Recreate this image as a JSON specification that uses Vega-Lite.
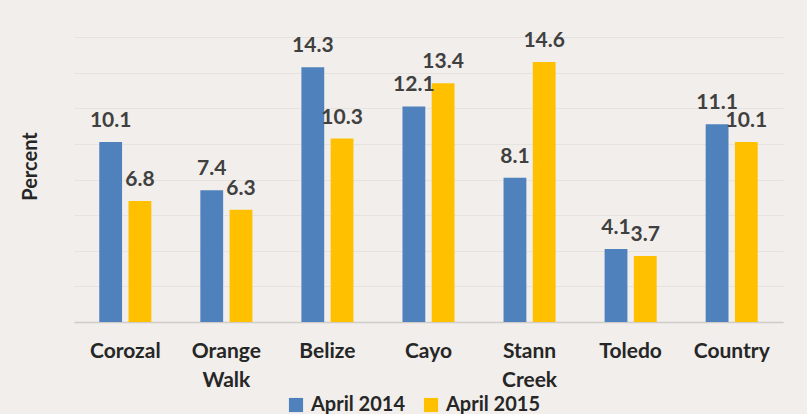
{
  "$schema": "https://vega.github.io/schema/vega-lite/v6.json",
  "width": 709,
  "height": 285,
  "autosize": {"type": "none"},
  "padding": {"left": 74, "top": 37, "right": 24, "bottom": 92},
  "background": "#F1EEEB",
  "data": {
    "values": [
      {"district": "Corozal", "period": "April 2014", "value": 10.1},
      {"district": "Corozal", "period": "April 2015", "value": 6.8},
      {"district": "Orange Walk", "period": "April 2014", "value": 7.4},
      {"district": "Orange Walk", "period": "April 2015", "value": 6.3},
      {"district": "Belize", "period": "April 2014", "value": 14.3},
      {"district": "Belize", "period": "April 2015", "value": 10.3},
      {"district": "Cayo", "period": "April 2014", "value": 12.1},
      {"district": "Cayo", "period": "April 2015", "value": 13.4},
      {"district": "Stann Creek", "period": "April 2014", "value": 8.1},
      {"district": "Stann Creek", "period": "April 2015", "value": 14.6},
      {"district": "Toledo", "period": "April 2014", "value": 4.1},
      {"district": "Toledo", "period": "April 2015", "value": 3.7},
      {"district": "Country", "period": "April 2014", "value": 11.1},
      {"district": "Country", "period": "April 2015", "value": 10.1}
    ]
  },
  "encoding": {
    "x": {
      "field": "district",
      "type": "nominal",
      "sort": null,
      "scale": {"paddingInner": 0.485, "paddingOuter": 0.25},
      "axis": {
        "title": null,
        "labelAngle": 0,
        "labelExpr": "split(datum.label, ' ')",
        "labelFont": "Lato",
        "labelFontWeight": "bold",
        "labelFontSize": 21,
        "labelColor": "#262626",
        "labelPadding": 18,
        "labelLineHeight": 29,
        "ticks": false,
        "domainColor": "#D0CCC8",
        "domainWidth": 1.5
      }
    },
    "xOffset": {"field": "period", "type": "nominal", "scale": {"paddingInner": 0.22}},
    "y": {
      "field": "value",
      "type": "quantitative",
      "scale": {"domain": [0, 16]},
      "axis": {
        "title": "Percent",
        "titleFont": "Lato",
        "titleFontWeight": "bold",
        "titleFontSize": 20,
        "titleColor": "#262626",
        "titlePadding": 34,
        "titleY": 129,
        "labels": false,
        "ticks": false,
        "domain": false,
        "values": [0, 2, 4, 6, 8, 10, 12, 14, 16],
        "gridColor": "#E6E2DE",
        "gridWidth": 1
      }
    },
    "color": {
      "field": "period",
      "type": "nominal",
      "scale": {"domain": ["April 2014", "April 2015"], "range": ["#4F81BD", "#FFC000"]},
      "legend": {
        "title": null,
        "orient": "none",
        "direction": "horizontal",
        "legendX": 212,
        "legendY": 358,
        "symbolType": "square",
        "symbolSize": 200,
        "symbolStrokeWidth": 0,
        "labelFont": "Lato",
        "labelFontWeight": "bold",
        "labelFontSize": 20,
        "labelColor": "#262626",
        "columnPadding": 16,
        "labelOffset": 5
      }
    }
  },
  "layer": [
    {"mark": {"type": "bar"}},
    {
      "mark": {
        "type": "text",
        "baseline": "bottom",
        "dy": -11,
        "font": "Lato",
        "fontWeight": "bold",
        "fontSize": 21,
        "color": "#404040"
      },
      "encoding": {
        "text": {"field": "value", "type": "quantitative", "format": ".1f"},
        "color": {"value": "#404040"}
      }
    }
  ],
  "config": {"view": {"stroke": null}}
}
